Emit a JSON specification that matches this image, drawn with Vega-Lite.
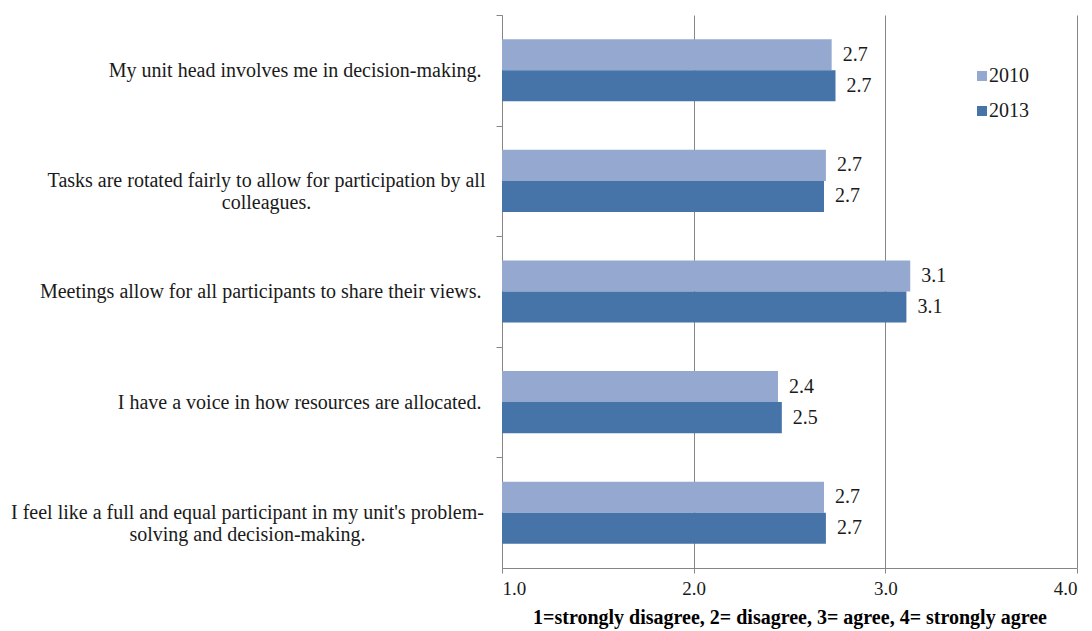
{
  "$schema": "https://vega.github.io/schema/vega-lite/v6.json",
  "width": 575,
  "height": 553,
  "autosize": {"type": "none"},
  "padding": {"left": 502, "top": 15, "right": 15, "bottom": 63},
  "background": "white",
  "config": {"view": {"stroke": null}},
  "data": {
    "values": [
      {"item": "My unit head involves me in decision-making.", "year": "2010", "value": 2.72},
      {"item": "My unit head involves me in decision-making.", "year": "2013", "value": 2.74},
      {"item": "Tasks are rotated fairly to allow for participation by all colleagues.", "year": "2010", "value": 2.69},
      {"item": "Tasks are rotated fairly to allow for participation by all colleagues.", "year": "2013", "value": 2.68},
      {"item": "Meetings allow for all participants to share their views.", "year": "2010", "value": 3.13},
      {"item": "Meetings allow for all participants to share their views.", "year": "2013", "value": 3.11},
      {"item": "I have a voice in how resources are allocated.", "year": "2010", "value": 2.44},
      {"item": "I have a voice in how resources are allocated.", "year": "2013", "value": 2.46},
      {"item": "I feel like a full and equal participant in my unit's problem-solving and decision-making.", "year": "2010", "value": 2.68},
      {"item": "I feel like a full and equal participant in my unit's problem-solving and decision-making.", "year": "2013", "value": 2.69}
    ]
  },
  "encoding": {
    "y": {
      "field": "item",
      "type": "nominal",
      "sort": [
        "My unit head involves me in decision-making.",
        "Tasks are rotated fairly to allow for participation by all colleagues.",
        "Meetings allow for all participants to share their views.",
        "I have a voice in how resources are allocated.",
        "I feel like a full and equal participant in my unit's problem-solving and decision-making."
      ],
      "scale": {"paddingInner": 0, "paddingOuter": 0},
      "axis": {
        "title": null,
        "tickSize": 6,
        "tickOffset": -55.3,
        "labelOffset": 55.3,
        "tickColor": "#868686",
        "domainColor": "#868686",
        "labelFont": "Liberation Serif",
        "labelFontSize": 20,
        "labelColor": "#1a1a1a",
        "labelLimit": 700,
        "labelLineHeight": 22,
        "labelBaseline": "middle",
        "labelExpr": "indexof(datum.value, 'Tasks') == 0 ? ['Tasks are rotated fairly to allow for participation by all', 'colleagues.'] : indexof(datum.value, 'I feel') == 0 ? [\"I feel like a full and equal participant in my unit's problem-\", 'solving and decision-making.'] : datum.label",
        "labelAlign": {
          "condition": {"test": "indexof(datum.value, 'Tasks') == 0 || indexof(datum.value, 'I feel') == 0", "value": "center"},
          "value": "right"
        },
        "labelPadding": {
          "condition": [
            {"test": "indexof(datum.value, 'Tasks') == 0", "value": 230},
            {"test": "indexof(datum.value, 'I feel') == 0", "value": 249}
          ],
          "value": 15
        }
      }
    },
    "yOffset": {
      "field": "year",
      "type": "nominal",
      "scale": {"paddingInner": 0, "paddingOuter": 0.78}
    },
    "x": {
      "field": "value",
      "type": "quantitative",
      "scale": {"domain": [1, 4], "nice": false, "zero": false},
      "axis": {
        "values": [1, 2, 3, 4],
        "format": ".1f",
        "grid": true,
        "gridColor": "#868686",
        "domainColor": "#868686",
        "tickColor": "#868686",
        "tickSize": 5,
        "labelFont": "Liberation Serif",
        "labelFontSize": 19,
        "labelColor": "#1a1a1a",
        "labelPadding": 6,
        "title": "1=strongly disagree, 2= disagree, 3= agree, 4= strongly agree",
        "titleFont": "Liberation Serif",
        "titleFontSize": 20,
        "titleFontWeight": "bold",
        "titleColor": "#000000",
        "titlePadding": 9
      }
    }
  },
  "layer": [
    {
      "mark": {"type": "bar"},
      "encoding": {
        "x2": {"datum": 1},
        "color": {
          "field": "year",
          "type": "nominal",
          "scale": {"domain": ["2010", "2013"], "range": ["#95A9D0", "#4674A8"]},
          "legend": {
            "title": null,
            "orient": "none",
            "legendX": 470,
            "legendY": 51,
            "symbolType": "square",
            "symbolSize": 100,
            "symbolStrokeWidth": 0,
            "labelFont": "Liberation Serif",
            "labelFontSize": 20,
            "labelColor": "#1a1a1a",
            "labelOffset": -3,
            "rowPadding": 15
          }
        }
      }
    },
    {
      "mark": {"type": "text", "align": "left", "baseline": "middle", "dx": 11, "font": "Liberation Serif", "fontSize": 20, "color": "#1a1a1a"},
      "encoding": {
        "text": {"field": "value", "type": "quantitative", "format": ".1f"}
      }
    }
  ]
}
